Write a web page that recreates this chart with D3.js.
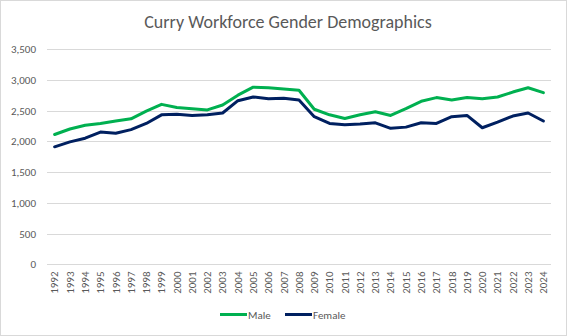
<!DOCTYPE html>
<html><head><meta charset="utf-8">
<script src="https://cdn.jsdelivr.net/npm/d3@7"></script>
<style>body{margin:0;background:#fff}svg{display:block}</style>
</head><body>
<script>
const years = ["1992","1993","1994","1995","1996","1997","1998","1999","2000","2001","2002","2003","2004","2005","2006","2007","2008","2009","2010","2011","2012","2013","2014","2015","2016","2017","2018","2019","2020","2021","2022","2023","2024"];
const male = [2110,2200,2260,2290,2330,2365,2490,2600,2550,2530,2510,2590,2750,2880,2870,2850,2830,2520,2430,2370,2430,2480,2420,2530,2650,2710,2670,2710,2690,2720,2800,2870,2790];
const female = [1910,1990,2050,2150,2130,2190,2290,2430,2440,2420,2430,2460,2660,2720,2690,2700,2670,2400,2290,2270,2280,2300,2210,2230,2300,2290,2400,2420,2220,2310,2410,2460,2330];
const yTicks = [0,500,1000,1500,2000,2500,3000,3500];
const title = "Curry Workforce Gender Demographics";
const seriesNames = ["Male","Female"];
const colors = ["#00B050","#002060"];

const W=567,H=336;
const svg=d3.select("body").append("svg").attr("width",W).attr("height",H);
svg.append("rect").attr("x",0.5).attr("y",0.5).attr("width",W-1).attr("height",H-1).attr("fill","#fff").attr("stroke","#d9d9d9");
const font="Calibri, Carlito, 'Open Sans', 'Liberation Sans', sans-serif";
svg.append("text").attr("x",288).attr("y",28).attr("text-anchor","middle")
  .attr("font-family",font).attr("font-size",18).attr("fill","#595959").text(title);

const x=d3.scaleBand().domain(years).range([47,551]);
const y=d3.scaleLinear().domain([0,3500]).range([264.3,49]);

const g=svg.append("g");
g.selectAll("line.grid").data(yTicks).join("line").attr("class","grid")
  .attr("x1",47).attr("x2",551).attr("y1",d=>Math.round(y(d))+0.5).attr("y2",d=>Math.round(y(d))+0.5)
  .attr("stroke","#d9d9d9").attr("stroke-width",1);

const ya=svg.append("g").attr("transform","translate(47,0)")
  .call(d3.axisLeft(y).tickValues(yTicks).tickSize(0).tickPadding(11).tickFormat(d3.format(",")));
ya.select(".domain").remove();
ya.selectAll("text").attr("font-family",font).attr("font-size",11).attr("fill","#595959");

const xa=svg.append("g").attr("transform","translate(0,"+(Math.round(y(0))+0.5)+")")
  .call(d3.axisBottom(x).tickSize(0).tickPadding(0));
xa.select(".domain").remove();
xa.selectAll("text").attr("font-family",font).attr("font-size",11).attr("fill","#595959")
  .attr("transform","rotate(-90)").attr("text-anchor","end").attr("dx","-7").attr("dy","0.35em").attr("y",0).attr("x",0);

const line=d3.line().x((d,i)=>x(years[i])+x.bandwidth()/2).y(d=>y(d));
[male,female].forEach((s,k)=>{
  svg.append("path").datum(s).attr("d",line).attr("fill","none")
    .attr("stroke",colors[k]).attr("stroke-width",3).attr("stroke-linejoin","round").attr("stroke-linecap","round");
});

const leg=[{x:220,n:seriesNames[0],c:colors[0]},{x:285,n:seriesNames[1],c:colors[1]}];
leg.forEach(l=>{
  svg.append("line").attr("x1",l.x).attr("x2",l.x+27).attr("y1",314.5).attr("y2",314.5).attr("stroke",l.c).attr("stroke-width",3);
  svg.append("text").attr("x",l.x+28).attr("y",318.5).attr("font-family",font).attr("font-size",11).attr("fill","#595959").text(l.n);
});
</script>
</body></html>
